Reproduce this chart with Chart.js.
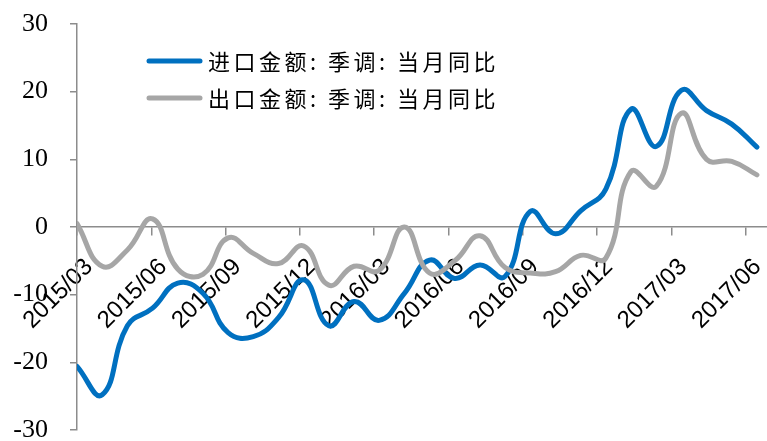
<!DOCTYPE html>
<html>
<head>
<meta charset="utf-8">
<script src="https://cdn.jsdelivr.net/npm/chart.js@4.4.1/dist/chart.umd.min.js"></script>
<style>
  html, body { margin: 0; padding: 0; background: #fff; }
  #wrap { width: 767px; height: 441px; position: relative; }
</style>
</head>
<body>
<div id="wrap"><canvas id="myChart"></canvas></div>
<script>
// months of the series
var months = ['2015/03', '2015/04', '2015/05', '2015/06', '2015/07', '2015/08', '2015/09',
    '2015/10', '2015/11', '2015/12', '2016/01', '2016/02', '2016/03', '2016/04',
    '2016/05', '2016/06', '2016/07', '2016/08', '2016/09', '2016/10', '2016/11',
    '2016/12', '2017/01', '2017/02', '2017/03', '2017/04', '2017/05', '2017/06'];

// x axis labels, one per quarter
var tickLabels = ['2015/03', '2015/06', '2015/09', '2015/12', '2016/03', '2016/06',
    '2016/09', '2016/12', '2017/03', '2017/06'];

// 进口金额: 季调: 当月同比
var importYoY = [-20.6, -24.8, -14.6, -12.0, -8.3, -9.8, -15.6, -16.2, -13.4, -7.8,
    -14.6, -11.0, -13.8, -9.8, -4.9, -7.6, -5.6, -7.3, 2.3, -1.0,
    2.4, 5.6, 17.4, 11.9, 20.2, 17.2, 15.2, 11.8];

// 出口金额: 季调: 当月同比
var exportYoY = [0.5, -5.8, -3.4, 1.2, -6.2, -7.0, -1.6, -3.9, -5.4, -2.8,
    -8.6, -5.8, -6.4, 0.0, -6.8, -5.0, -1.3, -6.0, -6.8, -6.6,
    -4.2, -4.6, 8.2, 6.0, 16.8, 10.0, 9.7, 7.7];

var yTicks = [-30, -20, -10, 0, 10, 20, 30];

function toPoints(arr) {
    return arr.map(function (v, i) { return { x: i, y: v }; });
}

// legend drawn inside the plot, top left
var insideLegend = {
    id: 'insideLegend',
    afterDatasetsDraw: function (chart) {
        var ctx = chart.ctx;
        var area = chart.chartArea;
        ctx.save();
        ctx.font = '22px "Noto Sans CJK SC"';
        ctx.textBaseline = 'middle';
        ctx.lineCap = 'round';
        if ('letterSpacing' in ctx) ctx.letterSpacing = '3.5px';
        chart.data.datasets.forEach(function (ds, i) {
            var x = area.left + 72;
            var y = area.top + 37 + i * 37;
            ctx.strokeStyle = ds.borderColor;
            ctx.lineWidth = 5;
            ctx.beginPath();
            ctx.moveTo(x, y);
            ctx.lineTo(x + 51, y);
            ctx.stroke();
            ctx.fillStyle = '#000';
            ctx.fillText(ds.label, x + 59, y + 1);
        });
        ctx.restore();
    }
};

var ctx = document.getElementById('myChart').getContext('2d');
var myChart = new Chart(ctx, {
    type: 'line',
    data: {
        datasets: [{
            label: '进口金额: 季调: 当月同比',
            data: toPoints(importYoY),
            borderColor: '#0070C0',
            backgroundColor: '#0070C0',
            borderWidth: 5,
            pointRadius: 0,
            tension: 0.45,
            borderCapStyle: 'round',
            borderJoinStyle: 'round',
            fill: false,
            order: 1
        }, {
            label: '出口金额: 季调: 当月同比',
            data: toPoints(exportYoY),
            borderColor: '#A6A6A6',
            backgroundColor: '#A6A6A6',
            borderWidth: 5,
            pointRadius: 0,
            tension: 0.45,
            borderCapStyle: 'round',
            borderJoinStyle: 'round',
            fill: false,
            order: 0
        }]
    },
    plugins: [insideLegend],
    options: {
        responsive: true,
        maintainAspectRatio: false,
        animation: false,
        layout: {
            padding: { left: 13, top: 24, right: 0, bottom: 11 }
        },
        plugins: {
            legend: { display: false },
            tooltip: { enabled: false }
        },
        scales: {
            x: {
                type: 'linear',
                position: { y: 0 },
                min: 0,
                max: 27.4,
                afterBuildTicks: function (scale) {
                    scale.ticks = tickLabels.map(function (t, k) { return { value: k * 2.95 }; });
                },
                afterFit: function (scale) {
                    scale.height = 0;
                    scale.paddingLeft = 0;
                    scale.paddingRight = 0;
                    scale.paddingTop = 0;
                    scale.paddingBottom = 0;
                },
                grid: {
                    display: true,
                    drawOnChartArea: false,
                    drawTicks: true,
                    tickLength: 8,
                    color: '#8c8c8c',
                    lineWidth: 1.5
                },
                border: { display: true, color: '#8c8c8c', width: 1.5 },
                ticks: {
                    autoSkip: false,
                    maxRotation: 45,
                    minRotation: 45,
                    labelOffset: 12,
                    padding: 18,
                    color: '#000',
                    font: { family: '"Liberation Sans", Arial, sans-serif', size: 24 },
                    callback: function (value, index) { return tickLabels[index]; }
                }
            },
            y: {
                min: -30,
                max: 30,
                afterBuildTicks: function (scale) {
                    scale.ticks = yTicks.map(function (v) { return { value: v }; });
                },
                afterFit: function (scale) {
                    scale.width = 64;
                    scale.paddingTop = 0;
                    scale.paddingBottom = 0;
                },
                grid: {
                    display: true,
                    drawOnChartArea: false,
                    tickLength: 7,
                    color: '#8c8c8c',
                    lineWidth: 1.5
                },
                border: { display: true, color: '#8c8c8c', width: 1.5 },
                ticks: {
                    padding: 22,
                    color: '#000',
                    font: { family: '"Liberation Serif", "Times New Roman", serif', size: 26, lineHeight: 0.8 }
                }
            }
        }
    }
});
</script>
</body>
</html>
